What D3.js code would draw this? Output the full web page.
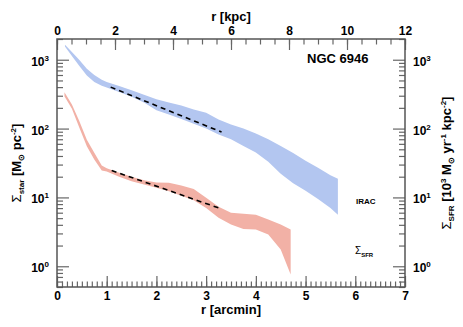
<!DOCTYPE html>
<html>
<head>
<meta charset="utf-8">
<script src="https://cdn.jsdelivr.net/npm/d3@7"></script>
<style>
  body { margin: 0; background: #fff; }
  text { font-family: "Liberation Sans", Arial, sans-serif; fill: #000; }
</style>
</head>
<body>
<script>
const width = 463;
const height = 327;
const margin = {top: 39, right: 58, bottom: 40, left: 57};
const w = width - margin.left - margin.right;
const h = height - margin.top - margin.bottom;

// stellar mass surface density band (IRAC), r in arcmin
const starR  = [0.16, 0.3, 0.45, 0.6, 0.75, 0.9, 1.0, 1.25, 1.5, 1.75, 2.0, 2.25, 2.5, 2.75, 3.0, 3.25, 3.5, 3.75, 4.0, 4.25, 4.5, 4.75, 5.0, 5.25, 5.5, 5.65];
const starHi = [1650, 1290, 990, 740, 600, 510, 475, 415, 360, 310, 266, 240, 217, 190, 170, 135, 115, 100, 85, 70, 56, 44, 34, 27, 21, 18.6];
const starLo = [1550, 1130, 810, 590, 475, 420, 395, 340, 290, 240, 185, 160, 138, 118, 100, 82, 70, 56, 45, 33, 22, 16, 12.5, 9.5, 7, 5.6];

// SFR surface density band
const sfrR  = [0.15, 0.3, 0.45, 0.6, 0.75, 0.9, 1.0, 1.25, 1.5, 1.75, 2.0, 2.25, 2.5, 2.75, 3.0, 3.25, 3.5, 3.75, 4.0, 4.25, 4.5, 4.7];
const sfrHi = [338, 224, 128, 69, 44.5, 29, 26.6, 22.8, 19.9, 17.8, 16.5, 16.3, 14.9, 13.3, 9.9, 7.3, 5.97, 5.77, 5.58, 4.77, 4.04, 3.41];
const sfrLo = [296, 194, 103, 55.5, 35.5, 24.6, 23.8, 19.9, 17.2, 15.4, 13.8, 12.3, 10.6, 9.1, 7.05, 5.05, 4.04, 3.49, 3.41, 2.89, 1.75, 0.76];

// exponential fits (dashed)
const starFitR = [1.08, 3.31];
const starFitV = [400, 89];
const sfrFitR = [1.10, 3.31];
const sfrFitV = [24.6, 6.8];

// ticks
const arcminTicks = [0, 1, 2, 3, 4, 5, 6, 7];
const kpcTicks = [0, 2, 4, 6, 8, 10, 12];
const decades = [0, 1, 2, 3];

const svg = d3.select("body")
  .append("svg")
  .attr("width", width)
  .attr("height", height);

const g = svg.append("g").attr("transform", `translate(${margin.left},${margin.top})`);

const x = d3.scaleLinear().domain([0, 7]).range([0, w]);
const xKpc = d3.scaleLinear().domain([0, 12]).range([0, w]);
const y = d3.scaleLog().domain([0.5, 2000]).range([h, 0]);

const band = d3.area()
  .x(d => x(d.r))
  .y0(d => y(d.lo))
  .y1(d => y(d.hi));

const starData = starR.map((r, i) => ({r: r, hi: starHi[i], lo: starLo[i]}));
const sfrData = sfrR.map((r, i) => ({r: r, hi: sfrHi[i], lo: sfrLo[i]}));

g.append("path").datum(starData).attr("d", band).attr("fill", "#b3c6f0");
g.append("path").datum(sfrData).attr("d", band).attr("fill", "#f2b1a6");

const line = d3.line().x(d => x(d[0])).y(d => y(d[1]));
[[starFitR, starFitV], [sfrFitR, sfrFitV]].forEach(function(f) {
  g.append("path")
    .datum(f[0].map((r, i) => [r, f[1][i]]))
    .attr("d", line)
    .attr("fill", "none")
    .attr("stroke", "#000")
    .attr("stroke-width", 1.6)
    .attr("stroke-dasharray", "5,4");
});

// minor log ticks
const logMinor = [];
for (let d = -1; d <= 3; d++) {
  for (let k = 2; k <= 9; k++) {
    const v = k * Math.pow(10, d);
    if (v >= 0.5 && v <= 2000) logMinor.push(v);
  }
}

function styleAxis(sel) {
  sel.select(".domain").remove();
  sel.selectAll(".tick line").attr("stroke", "#666").attr("stroke-width", 1.2);
  sel.selectAll("text")
    .style("font-family", "'Liberation Sans', Arial, sans-serif")
    .style("font-weight", "bold")
    .style("font-size", "12px")
    .attr("fill", "#000");
}

// bottom axis
g.append("g").attr("transform", `translate(0,${h})`)
  .call(d3.axisBottom(x).tickValues(d3.range(0, 71).map(i => i / 10)).tickSize(-5.5).tickFormat(""))
  .call(styleAxis);
g.append("g").attr("transform", `translate(0,${h})`)
  .call(d3.axisBottom(x).tickValues(arcminTicks).tickSize(-11).tickPadding(4).tickFormat(d3.format("d")))
  .call(styleAxis);

// top axis
g.append("g")
  .call(d3.axisTop(xKpc).tickValues(d3.range(0, 25).map(i => i / 2)).tickSize(-5.5).tickFormat(""))
  .call(styleAxis);
g.append("g")
  .call(d3.axisTop(xKpc).tickValues(kpcTicks).tickSize(-11).tickPadding(4).tickFormat(d3.format("d")))
  .call(styleAxis);

// left and right log axes
g.append("g").call(d3.axisLeft(y).tickValues(logMinor).tickSize(-6).tickFormat("")).call(styleAxis);
g.append("g").call(d3.axisLeft(y).tickValues(decades.map(d => Math.pow(10, d))).tickSize(-12).tickFormat("")).call(styleAxis);
g.append("g").attr("transform", `translate(${w},0)`)
  .call(d3.axisRight(y).tickValues(logMinor).tickSize(-6).tickFormat("")).call(styleAxis);
g.append("g").attr("transform", `translate(${w},0)`)
  .call(d3.axisRight(y).tickValues(decades.map(d => Math.pow(10, d))).tickSize(-12).tickFormat("")).call(styleAxis);

// frame
g.append("rect")
  .attr("width", w).attr("height", h)
  .attr("fill", "none").attr("stroke", "#555").attr("stroke-width", 1.5);

// decade labels 10^n on both sides
function powLabel(sel, xp, anchor) {
  sel.each(function(d) {
    const t = d3.select(this)
      .attr("x", xp)
      .attr("y", y(Math.pow(10, d)) + 6)
      .attr("text-anchor", anchor)
      .style("font-weight", "bold")
      .style("font-size", "12px");
    t.append("tspan").text("10");
    t.append("tspan").attr("dy", -5).style("font-size", "8px").text(d);
  });
}
g.selectAll(".ylab").data(decades).enter().append("text").call(powLabel, -8, "end");
g.selectAll(".ylab2").data(decades).enter().append("text").call(powLabel, w + 8, "start");

// axis titles
svg.append("text")
  .attr("x", margin.left + w / 2).attr("y", 21)
  .attr("text-anchor", "middle")
  .style("font-weight", "bold").style("font-size", "13px")
  .text("r [kpc]");

svg.append("text")
  .attr("x", margin.left + w / 2).attr("y", 314)
  .attr("text-anchor", "middle")
  .style("font-weight", "bold").style("font-size", "13px")
  .text("r [arcmin]");

function sigmaTitle(t, sub, parts) {
  t.append("tspan").style("font-weight", "normal").text("\u03A3");
  t.append("tspan").attr("dy", 3).style("font-size", "8px").text(sub);
  parts.forEach(function(p) {
    const dy = p[1] === "sup" ? -5 : p[1] === "sub" ? 3 : 0;
    t.append("tspan")
      .attr("dy", dy - (t.node().__shift || 0))
      .style("font-size", p[1] === "base" ? "13px" : "8px")
      .text(p[0]);
    t.node().__shift = dy;
  });
}

const leftTitle = svg.append("text")
  .attr("transform", `translate(21,${margin.top + h / 2}) rotate(-90)`)
  .attr("text-anchor", "middle")
  .style("font-weight", "bold").style("font-size", "13px");
leftTitle.node().__shift = 3;
sigmaTitle(leftTitle, "star", [[" [M", "base"], ["\u2299", "sub"], [" pc", "base"], ["-2", "sup"], ["]", "base"]]);

const rightTitle = svg.append("text")
  .attr("transform", `translate(451,${margin.top + h / 2}) rotate(-90)`)
  .attr("text-anchor", "middle")
  .style("font-weight", "bold").style("font-size", "13px");
rightTitle.node().__shift = 3;
sigmaTitle(rightTitle, "SFR", [[" [10", "base"], ["3", "sup"], [" M", "base"], ["\u2299", "sub"], [" yr", "base"], ["-1", "sup"], [" kpc", "base"], ["-2", "sup"], ["]", "base"]]);

// labels inside the plot
svg.append("text")
  .attr("x", 307).attr("y", 63)
  .style("font-weight", "bold").style("font-size", "13px")
  .text("NGC 6946");

svg.append("text")
  .attr("x", 356).attr("y", 204)
  .style("font-weight", "bold").style("font-size", "8px")
  .text("IRAC");

const sfrLab = svg.append("text")
  .attr("x", 355).attr("y", 254)
  .style("font-size", "10px");
sfrLab.append("tspan").text("\u03A3");
sfrLab.append("tspan").attr("dy", 2.5).style("font-size", "6px").style("font-weight", "bold").text("SFR");
</script>
</body>
</html>
